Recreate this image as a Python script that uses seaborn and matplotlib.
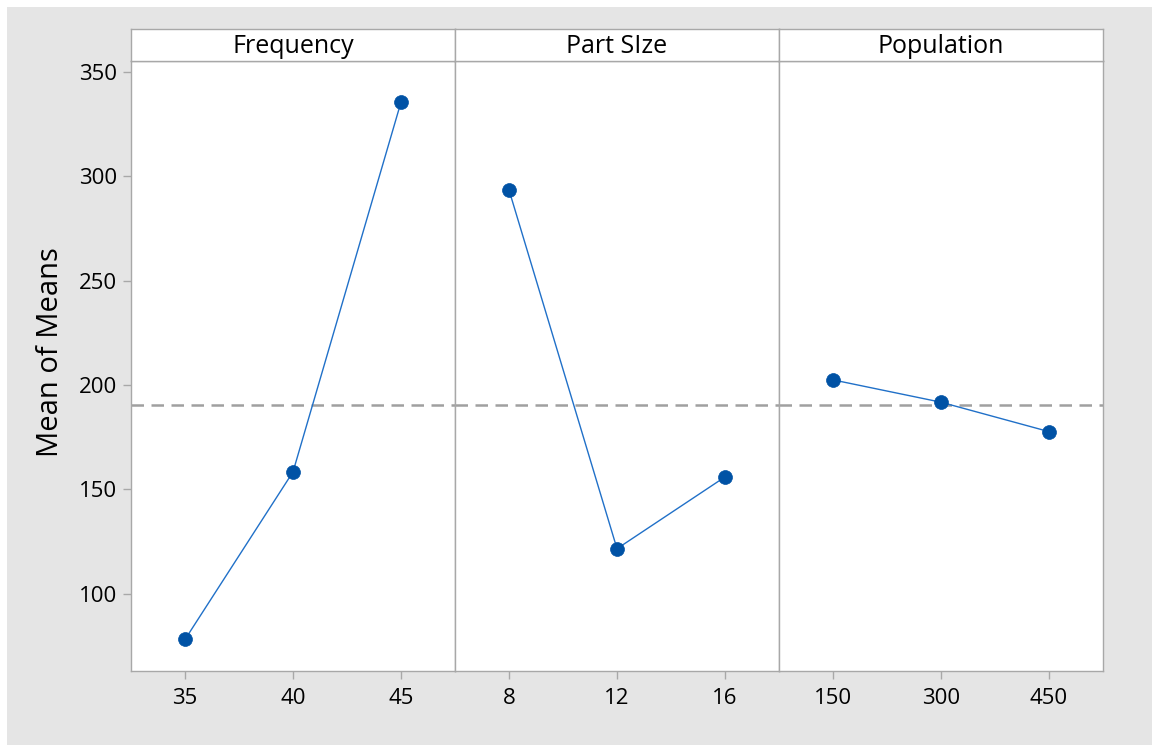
import numpy as np
import matplotlib
matplotlib.use("Agg")
import matplotlib.pyplot as plt
import pandas as pd
import seaborn as sns
from matplotlib.patches import Rectangle

sns.set_style("white")
plt.rcParams['font.family'] = ['Open Sans', 'DejaVu Sans']
plt.rcParams['text.color'] = 'black'
plt.rcParams['xtick.labelcolor'] = 'black'
plt.rcParams['ytick.labelcolor'] = 'black'

# main effects for means
factors = ["Frequency", "Part SIze", "Population"]
levels = [["35", "40", "45"], ["8", "12", "16"], ["150", "300", "450"]]
means = [[78.1, 158.4, 335.6], [293.5, 121.6, 156.0], [202.5, 191.8, 177.7]]
grand_mean = 190.7

line_col = "#2070C8"
dot_col = "#0052A5"
frame_col = "#A8A8A8"

fig = plt.figure(figsize=(11.52, 7.45), dpi=100)
fig.patch.set_facecolor("white")
fig.patches.append(Rectangle((7 / 1152, 0), 1, 738 / 745, transform=fig.transFigure,
                             facecolor="#E5E5E5", edgecolor="none", zorder=-10))

left, right = 131 / 1152, 1103 / 1152
bottom, top = 1 - 671 / 745, 1 - 61 / 745
strip_top = 1 - 29 / 745
w = (right - left) / 3

axes = []
for i in range(3):
    ax = fig.add_axes([left + i * w, bottom, w, top - bottom], sharey=axes[0] if axes else None)
    axes.append(ax)
    df = pd.DataFrame({"pos": np.arange(len(levels[i])), "mean": means[i]})
    sns.lineplot(data=df, x="pos", y="mean", ax=ax, color=line_col, linewidth=1,
                 marker="o", markersize=10, markerfacecolor=dot_col,
                 markeredgecolor=dot_col, markeredgewidth=0.5)
    ax.axhline(grand_mean, color="#A0A0A0", linewidth=1.8, dashes=(5, 3), zorder=0)
    ax.set_xlim(-0.5, 2.5)
    ax.set_ylim(63, 355.3)
    ax.set_xticks(np.arange(3))
    ax.set_xticklabels(levels[i])
    ax.set_xlabel("")
    ax.set_ylabel("")
    for s in ax.spines.values():
        s.set_color(frame_col)
        s.set_linewidth(1)
    ax.tick_params(axis="x", direction="out", length=6, width=1, color=frame_col,
                   labelsize=16, pad=6, bottom=True)
    if i == 0:
        ax.set_yticks([100, 150, 200, 250, 300, 350])
        ax.tick_params(axis="y", direction="out", length=6, width=1, color=frame_col,
                       labelsize=16, pad=4, left=True)
    else:
        ax.tick_params(axis="y", left=False, labelleft=False)

    # strip header
    sax = fig.add_axes([left + i * w, top, w, strip_top - top])
    sax.set_xticks([])
    sax.set_yticks([])
    for s in sax.spines.values():
        s.set_color(frame_col)
        s.set_linewidth(1)
    sax.text(0.5, 0.45, factors[i], ha="center", va="center", fontsize=18,
             transform=sax.transAxes)

fig.text(51 / 1152, 1 - 352 / 745, "Mean of Means", rotation=90, ha="center",
         va="center", fontsize=21)

fig.savefig("out.png", dpi=100)
